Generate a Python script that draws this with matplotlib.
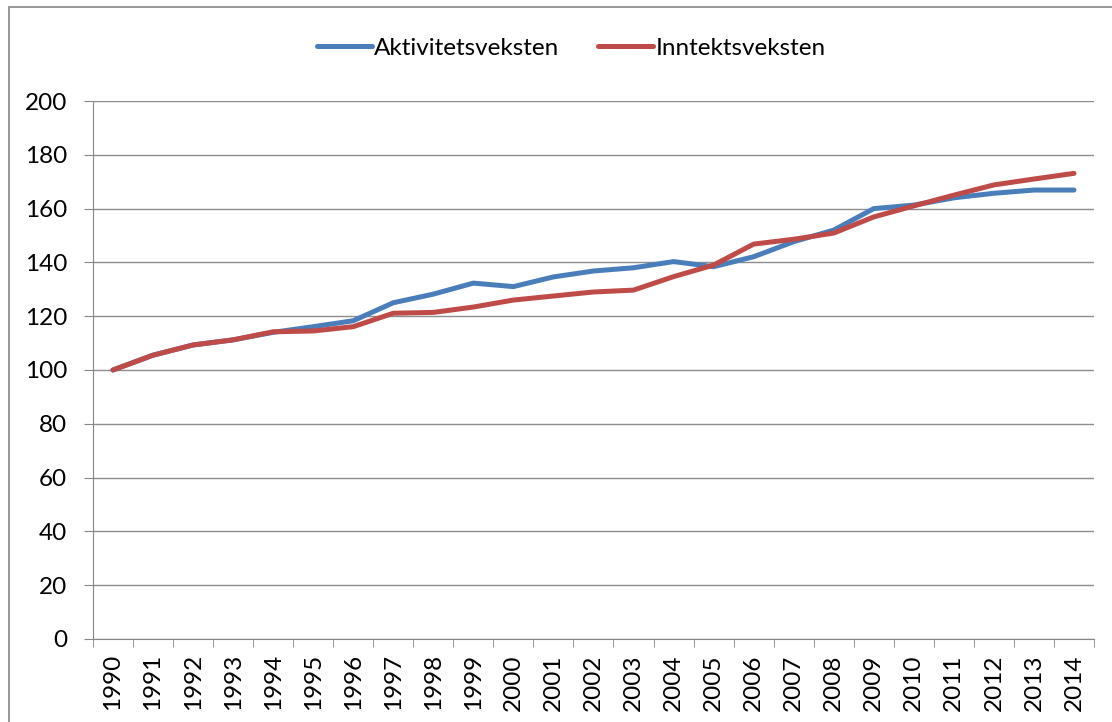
import matplotlib.pyplot as plt
from matplotlib.patches import Rectangle
import numpy as np

plt.rcParams['font.family'] = ['Lato', 'DejaVu Sans']

# Data
years = [str(y) for y in range(1990, 2015)]
aktivitet = [100, 105.5, 109.3, 111.2, 114.0, 116.1, 118.3, 125.0, 128.2, 132.3,
             131.0, 134.6, 136.8, 138.0, 140.3, 138.4, 142.1, 147.7, 152.0, 160.0,
             161.3, 164.0, 165.7, 166.9, 166.9]
inntekt = [100, 105.5, 109.3, 111.2, 114.2, 114.5, 116.1, 121.1, 121.4, 123.4,
           126.0, 127.5, 129.0, 129.7, 134.7, 139.0, 146.8, 148.6, 150.9, 156.9,
           161.0, 165.0, 168.8, 171.0, 173.1]

fig = plt.figure(figsize=(11.12, 7.22), dpi=100)
ax = fig.add_axes([0.0836, 0.115, 0.9002, 0.7451])

# outer chart frame
fig.patches.append(Rectangle((0.008, -0.01), 1.2, 1.0, transform=fig.transFigure,
                             fill=False, edgecolor='#868686', linewidth=1.2))

x = np.arange(len(years))
ax.plot(x, aktivitet, color='#4A7EBB', linewidth=3.6, label='Aktivitetsveksten',
        solid_capstyle='round', solid_joinstyle='round')
ax.plot(x, inntekt, color='#BE4B48', linewidth=3.6, label='Inntektsveksten',
        solid_capstyle='round', solid_joinstyle='round')

ax.set_xlim(-0.5, len(years) - 0.5)
ax.set_ylim(0, 200)
ax.set_yticks(range(0, 201, 20))
ax.tick_params(axis='y', labelsize=17.5, length=6.5, color='#868686', pad=12)
ax.set_xticks(x)
ax.set_xticklabels(years, rotation=90, fontsize=17.5)
ax.set_xticks(np.arange(-0.5, len(years), 1), minor=True)
ax.tick_params(axis='x', which='major', length=0, pad=11)
ax.tick_params(axis='x', which='minor', length=6, color='#868686')

ax.grid(axis='y', color='#8c8c8c', linewidth=1)
ax.set_axisbelow(True)
for s in ['top', 'right']:
    ax.spines[s].set_visible(False)
for s in ['left', 'bottom']:
    ax.spines[s].set_color('#868686')

ax.legend(loc='center', bbox_to_anchor=(0.478, 1.098), ncol=2, frameon=False,
          fontsize=17.5, handlelength=2.26, handletextpad=0.1, columnspacing=1.6)

fig.savefig('out.png', dpi=100)
